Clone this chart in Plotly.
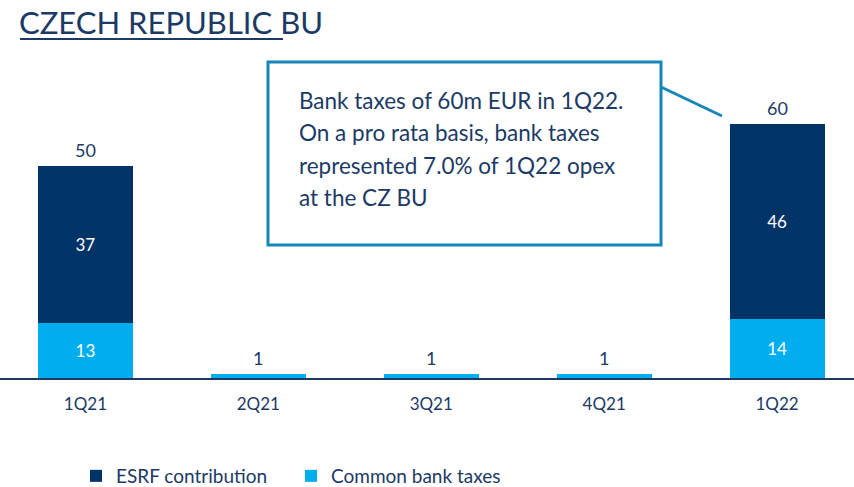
import plotly.graph_objects as go

quarters = ["1Q21", "2Q21", "3Q21", "4Q21", "1Q22"]
esrf_contribution = [37, 0, 0, 0, 46]
common_bank_taxes = [13, 1, 1, 1, 14]
totals = [50, 1, 1, 1, 60]

title_text = "CZECH REPUBLIC BU"
callout_lines = [
    "Bank taxes of 60m EUR in 1Q22.",
    "On a pro rata basis, bank taxes",
    "represented 7.0% of 1Q22 opex",
    "at the CZ BU",
]

NAVY = "#003366"
CYAN = "#00aeef"
TEXT = "#1b3a66"
BOX = "#1487b8"
FONT = "Lato, Calibri, sans-serif"

W, H = 854, 487
ML, MR, MT, MB = 0, 0, 60, 109
PH = H - MT - MB


def px(x):
    return (x - ML) / (W - ML - MR)


def py(y):
    return (H - MB - y) / PH


def seg_text(vals):
    return [str(v) if v >= 5 else "" for v in vals]


fig = go.Figure()
fig.add_trace(go.Bar(
    x=quarters, y=common_bank_taxes, name="Common bank taxes",
    marker=dict(color=CYAN, line=dict(width=0)),
    text=seg_text(common_bank_taxes), textposition="inside",
    insidetextanchor="middle", textangle=0,
    textfont=dict(color="white", size=17, family=FONT),
))
fig.add_trace(go.Bar(
    x=quarters, y=esrf_contribution, name="ESRF contribution",
    marker=dict(color=NAVY, line=dict(width=0)),
    text=seg_text(esrf_contribution), textposition="inside",
    insidetextanchor="middle", textangle=0,
    textfont=dict(color="white", size=17, family=FONT),
))

shapes = [
    dict(type="rect", xref="paper", yref="paper",
         x0=px(268), x1=px(661), y0=py(245), y1=py(62),
         line=dict(color=BOX, width=3), fillcolor="white", layer="above"),
    dict(type="line", xref="paper", yref="paper",
         x0=px(661), y0=py(87), x1=px(722), y1=py(116),
         line=dict(color=BOX, width=3)),
    dict(type="line", xref="paper", yref="paper",
         x0=px(20), y0=py(39), x1=px(283), y1=py(39),
         line=dict(color=TEXT, width=2)),
]

annotations = [
    dict(text=title_text, xref="paper", yref="paper", x=px(18), y=py(22),
         xanchor="left", yanchor="middle", showarrow=False, borderpad=0,
         font=dict(size=31, color=TEXT, family=FONT)),
]
for q, t in zip(quarters, totals):
    annotations.append(dict(
        text=str(t), x=q, y=t, xref="x", yref="y",
        xanchor="center", yanchor="bottom", yshift=3, showarrow=False,
        font=dict(size=18, color=TEXT, family=FONT)))
for i, line in enumerate(callout_lines):
    annotations.append(dict(
        text=line, xref="paper", yref="paper", x=px(297), y=py(100 + 32.5 * i),
        xanchor="left", yanchor="middle", showarrow=False,
        font=dict(size=22.5, color=TEXT, family=FONT)))

fig.update_layout(
    width=W, height=H,
    margin=dict(l=ML, r=MR, t=MT, b=MB, autoexpand=False),
    paper_bgcolor="white", plot_bgcolor="white",
    barmode="stack", bargap=0.45,
    hovermode=False,
    font=dict(family=FONT, color=TEXT),
    xaxis=dict(type="category", range=[-0.494, 4.445], showgrid=False,
               automargin=False,
               showline=True, linecolor="#1f3864", linewidth=2,
               ticks="", ticklabelstandoff=10,
               tickfont=dict(size=17, color=TEXT, family=FONT)),
    yaxis=dict(range=[0, 75], visible=False, showgrid=False, zeroline=False,
               automargin=False),
    legend=dict(orientation="h", traceorder="reversed",
                x=px(76), xanchor="left", y=py(476), yanchor="middle",
                font=dict(size=19, color=TEXT, family=FONT),
                entrywidth=170),
    shapes=shapes,
    annotations=annotations,
)

fig.write_html("out.html",
               config={"displayModeBar": False},
               post_script="document.body.style.margin='0';document.body.style.overflow='hidden';")
